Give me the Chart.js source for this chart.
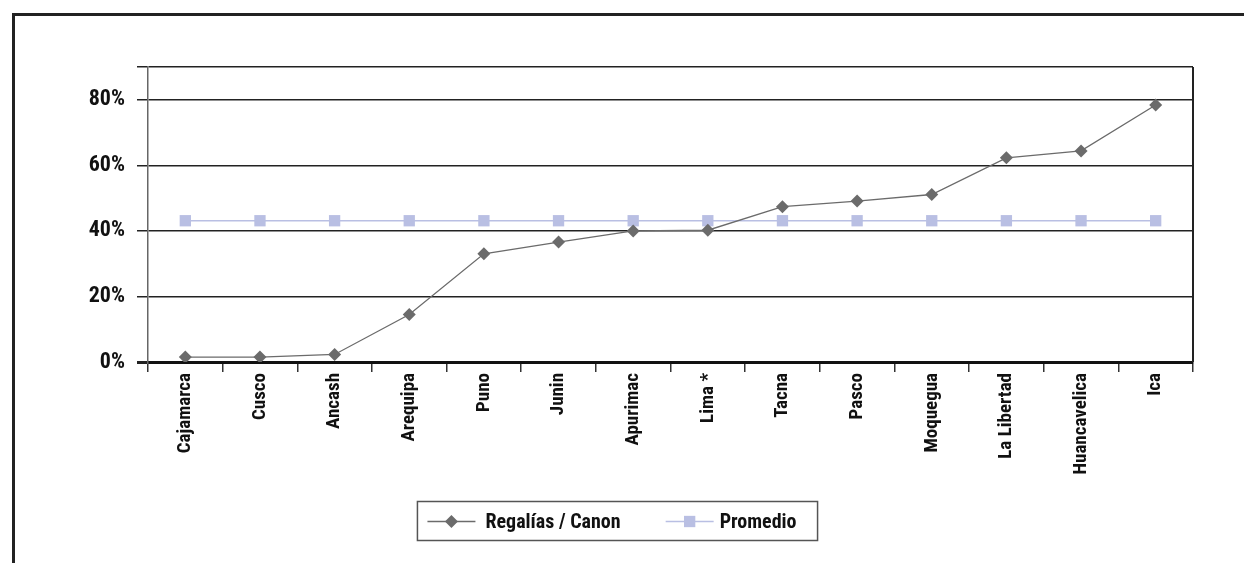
<!DOCTYPE html>
<html lang="es">
<head>
  <meta charset="UTF-8" />
  <title>Regalías / Canon por región</title>
  <script src="https://cdn.jsdelivr.net/npm/chart.js"></script>
  <style>
    html, body { margin: 0; padding: 0; background: #fff; overflow: hidden; }
    .frame { position: absolute; left: 12px; top: 13px; width: 1300px; height: 600px; border-left: 3px solid #222; border-top: 3px solid #222; }
    .wrap { position: absolute; left: 0; top: 0; width: 1244px; height: 563px; }
  </style>
</head>
<body>
  <div class="frame"></div>
  <div class="wrap"><canvas id="chart" width="1244" height="563"></canvas></div>

  <script>
    const regiones = ["Cajamarca", "Cusco", "Ancash", "Arequipa", "Puno", "Junin", "Apurimac", "Lima *", "Tacna", "Pasco", "Moquegua", "La Libertad", "Huancavelica", "Ica"];
    const regalias = [1.5, 1.5, 2.3, 14.5, 33.0, 36.6, 40.0, 40.2, 47.4, 49.1, 51.1, 62.3, 64.4, 78.4];
    const promedio = [43.1, 43.1, 43.1, 43.1, 43.1, 43.1, 43.1, 43.1, 43.1, 43.1, 43.1, 43.1, 43.1, 43.1];
    const yTicks = [0, 20, 40, 60, 80, 90];

    const FONT = "'Roboto Condensed', 'Liberation Sans Narrow', 'DejaVu Sans Condensed', sans-serif";

    // right border of the plot + legend drawn in a box under the axis
    const decor = {
      id: "decor",
      afterDraw(chart) {
        const ctx = chart.ctx;
        const a = chart.chartArea;
        ctx.save();
        ctx.strokeStyle = "#222";
        ctx.lineWidth = 2;
        ctx.beginPath();
        ctx.moveTo(a.right, a.top);
        ctx.lineTo(a.right, a.bottom);
        ctx.stroke();

        // legend
        ctx.font = "bold 20px " + FONT;
        ctx.textBaseline = "middle";
        ctx.textAlign = "left";
        const sets = chart.data.datasets;
        const widths = sets.map(ds => ctx.measureText(ds.label).width);
        const symW = 48;
        const total = 10 + symW + 10 + widths[0] + 45 + symW + 6 + widths[1] + 21;
        const left = 617.5 - total / 2;
        const top = a.bottom + 139.5;
        const cy = top + 20;
        ctx.strokeStyle = "#555";
        ctx.lineWidth = 1.5;
        ctx.strokeRect(left, top, total, 39);

        let x = left + 10;
        sets.forEach((ds, i) => {
          ctx.strokeStyle = ds.borderColor;
          ctx.lineWidth = ds.borderWidth;
          ctx.beginPath();
          ctx.moveTo(x, cy);
          ctx.lineTo(x + symW, cy);
          ctx.stroke();
          ctx.fillStyle = ds.pointBackgroundColor;
          Chart.helpers.drawPoint(ctx, { pointStyle: ds.pointStyle, radius: ds.pointRadius, rotation: 0, borderWidth: 0 }, x + symW / 2, cy);
          x += symW + (i === 0 ? 10 : 6);
          ctx.fillStyle = "#111";
          ctx.fillText(ds.label, x, cy + 1);
          x += widths[i] + 45;
        });
        ctx.restore();
      }
    };

    new Chart(document.getElementById("chart"), {
      type: "line",
      data: {
        labels: regiones,
        datasets: [{
          label: "Regalías / Canon",
          data: regalias,
          borderColor: "#6b6b6b",
          backgroundColor: "#6b6b6b",
          pointBackgroundColor: "#6b6b6b",
          pointBorderColor: "#6b6b6b",
          borderWidth: 1.3,
          pointStyle: "rectRot",
          pointRadius: 6.5,
          pointBorderWidth: 0,
          tension: 0
        }, {
          label: "Promedio",
          data: promedio,
          borderColor: "#b9bfe3",
          backgroundColor: "#b9bfe3",
          pointBackgroundColor: "#b9bfe3",
          pointBorderColor: "#b9bfe3",
          borderWidth: 1.5,
          pointStyle: "rect",
          pointRadius: 8,
          pointBorderWidth: 0,
          tension: 0
        }]
      },
      options: {
        responsive: false,
        animation: false,
        layout: { padding: { left: 42, top: 67, right: 51, bottom: 64 } },
        plugins: {
          tooltip: { enabled: false },
          legend: { display: false }
        },
        scales: {
          x: {
            offset: true,
            afterFit: s => { s.height = 137; },
            grid: { offset: true, drawOnChartArea: false, tickLength: 10, color: "#333", lineWidth: 1.5 },
            border: { display: true, color: "#111", width: 3 },
            ticks: {
              color: "#111",
              font: { family: FONT, size: 19, weight: "bold" },
              maxRotation: 90,
              minRotation: 90,
              padding: 1,
              autoSkip: false
            }
          },
          y: {
            min: 0,
            max: 90,
            afterFit: s => { s.width = 106; },
            afterBuildTicks: s => { s.ticks = yTicks.map(v => ({ value: v })); },
            grid: {
              color: "#222",
              lineWidth: c => (c.tick && c.tick.value === 0 ? 3 : 1.5),
              tickLength: 11
            },
            border: { display: true, color: "#666", width: 1.5 },
            ticks: {
              color: "#111",
              padding: 12,
              font: { family: FONT, size: 22, weight: "bold" },
              callback: v => (v === 90 ? "" : v + "%")
            }
          }
        }
      },
      plugins: [decor]
    });
  </script>
</body>
</html>
